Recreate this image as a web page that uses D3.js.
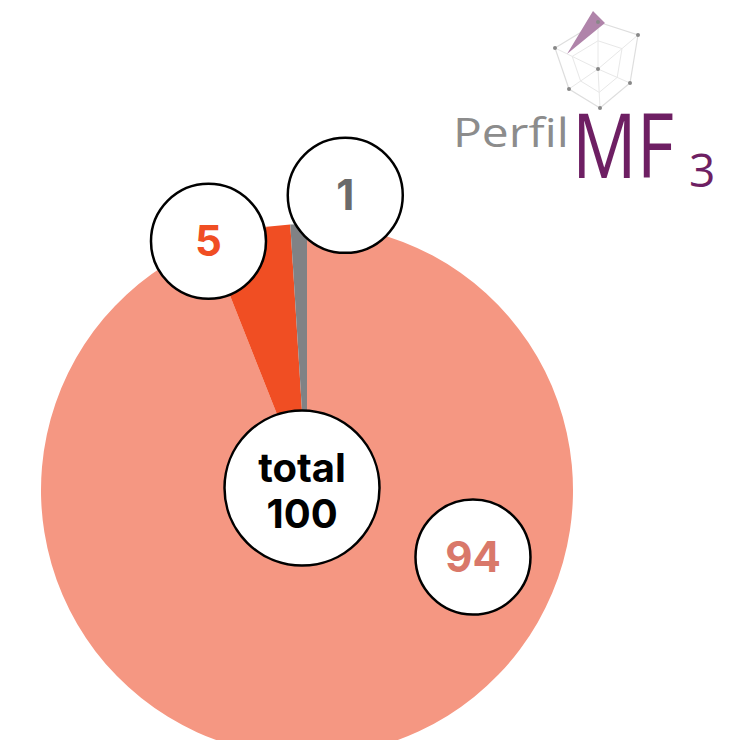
<!DOCTYPE html>
<html>
<head>
  <script src="https://d3js.org/d3.v7.min.js"></script>
  <meta charset='utf-8'>
  <title>Perfil MF3</title>
  <style>
    body { margin: 0; background: #fff; }
    svg { display: block; }
  </style>
</head>
<body>
  <div id="container"></div>

  <script>
  // chart values
  const categories = ["a", "b", "c"];
  const values = [94, 5, 1];
  const sliceColors = ["#f59782", "#f04e23", "#808285"];
  const labelColors = ["#d9786a", "#f04e23", "#6a6a6a"];
  const totalLabel = "total";

  // where each value bubble sits: angle in degrees (clockwise from top), distance as share of radius
  const bubbleAngle = [112, 338.4, 7.4];
  const bubbleDist = [0.673, 1.006, 1.117];

  const
  width = 748,
  height = 740,
  cx = 307,
  cy = 490,
  radius = 266;

  const svg = d3.select("#container").append("svg")
    .attr("width", width)
    .attr("height", height)

  const data = categories.map(function(c, i) { return {name: c, value: values[i], i: i}; });

  const pie = d3.pie()
    .sort(null)
    .value(function(d) { return d.value })

  const arc = d3.arc().innerRadius(0).outerRadius(radius);

  const g = svg.append("g").attr("transform", `translate(${cx},${cy})`);

  g.selectAll("path.slice")
    .data(pie(data))
    .enter()
    .append("path")
    .attr("class", "slice")
    .attr("d", arc)
    .attr("fill", function(d) { return sliceColors[d.data.i] })

  // total bubble in the middle
  const total = d3.sum(values);
  g.append("circle")
    .attr("r", 77.5)
    .attr("cx", -5)
    .attr("cy", -2)
    .attr("fill", "#fff")
    .attr("stroke", "#000")
    .attr("stroke-width", 2.5)

  const tt = g.append("text")
    .attr("text-anchor", "middle")
    .attr("font-family", "Inter, 'DejaVu Sans', sans-serif")
    .attr("font-weight", 700)
    .attr("font-size", 40)
    .attr("fill", "#000")
  tt.append("tspan").attr("x", -5).attr("y", -8).text(totalLabel)
  tt.append("tspan").attr("x", -5).attr("y", 38).text(total)

  // value bubbles
  const bubbles = g.selectAll("g.bubble")
    .data(data)
    .enter()
    .append("g")
    .attr("class", "bubble")
    .attr("transform", function(d) {
      const a = bubbleAngle[d.i] * Math.PI / 180;
      const r = bubbleDist[d.i] * radius;
      return `translate(${r * Math.sin(a)},${-r * Math.cos(a)})`;
    })

  bubbles.append("circle")
    .attr("r", 57.5)
    .attr("fill", "#fff")
    .attr("stroke", "#000")
    .attr("stroke-width", 2.5)

  bubbles.append("text")
    .attr("text-anchor", "middle")
    .attr("y", 15)
    .attr("font-family", "Inter, 'DejaVu Sans', sans-serif")
    .attr("font-weight", 700)
    .attr("font-size", 42)
    .attr("fill", function(d) { return labelColors[d.i] })
    .text(function(d) { return d.value })

  // logo, top right
  const logo = svg.append("g").attr("class", "logo");

  const web = [[598, 22], [638, 35], [630, 83], [600, 108], [569, 89], [555, 48]];
  const hub = [598, 69];
  const line = d3.line();

  logo.append("path")
    .attr("d", line(web) + "Z")
    .attr("fill", "none")
    .attr("stroke", "#dedede")
    .attr("stroke-width", 1.2)
  logo.append("path")
    .attr("d", line(web.map(function(p) { return [hub[0] + (p[0] - hub[0]) * 0.6, hub[1] + (p[1] - hub[1]) * 0.6]; })) + "Z")
    .attr("fill", "none")
    .attr("stroke", "#e8e8e8")
    .attr("stroke-width", 1)
  logo.selectAll("line.spoke")
    .data(web)
    .enter()
    .append("line")
    .attr("class", "spoke")
    .attr("x1", hub[0]).attr("y1", hub[1])
    .attr("x2", function(d) { return d[0] }).attr("y2", function(d) { return d[1] })
    .attr("stroke", "#e8e8e8")
    .attr("stroke-width", 1)
  logo.append("path")
    .attr("d", line([[593, 11], [605, 23], [600, 27], [567, 54]]) + "Z")
    .attr("fill", "#b084aa")
  logo.selectAll("circle.dot")
    .data(web.concat([hub]))
    .enter()
    .append("circle")
    .attr("class", "dot")
    .attr("cx", function(d) { return d[0] })
    .attr("cy", function(d) { return d[1] })
    .attr("r", 2)
    .attr("fill", "#888")

  logo.append("text")
    .attr("transform", "translate(453,147) scale(1.2,1)")
    .attr("font-family", "'Open Sans', sans-serif")
    .attr("font-size", 40)
    .attr("fill", "#8c8c8c")
    .text("Perfil")

  // MF squeezed horizontally like the original logo
  logo.append("text")
    .attr("transform", "translate(572,178) scale(0.8,1)")
    .attr("font-family", "'Open Sans', sans-serif")
    .attr("font-weight", 500)
    .attr("font-size", 90)
    .attr("fill", "#6e1f63")
    .text("MF")
  logo.append("text")
    .attr("x", 689)
    .attr("y", 187)
    .attr("font-family", "'Open Sans', sans-serif")
    .attr("font-weight", 500)
    .attr("font-size", 46)
    .attr("fill", "#6e1f63")
    .text("3")
  </script>
</body>
</html>
